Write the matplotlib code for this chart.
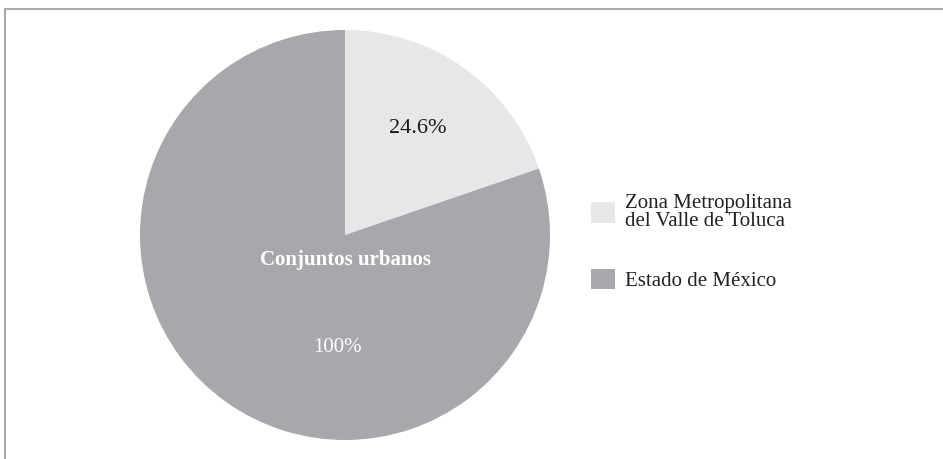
import matplotlib
matplotlib.use('Agg')
import matplotlib.pyplot as plt
from matplotlib.lines import Line2D

# values as drawn in the figure (each region given its own share)
labels = ["Zona Metropolitana\ndel Valle de Toluca", "Estado de México"]
values = [24.6, 100]
value_labels = ["24.6%", "100%"]
colors = ["#e6e7e8", "#a7a8ab"]
title = "Conjuntos urbanos"

W, H = 943, 459
fig = plt.figure(figsize=(W / 100, H / 100), dpi=100)

# frame lines (top and left)
fig.add_artist(Line2D([5 / W, 1], [1 - 9 / H, 1 - 9 / H], color="#a9a9a9", lw=1.5))
fig.add_artist(Line2D([5 / W, 5 / W], [0, 1 - 9 / H], color="#a9a9a9", lw=1.5))

ax = fig.add_axes([140 / W, 19 / H, 410 / W, 410 / H])
wedges, _ = ax.pie(values, colors=colors, startangle=90, counterclock=False,
                   radius=1, wedgeprops=dict(linewidth=0))
ax.set_xlim(-1, 1)
ax.set_ylim(-1, 1)
ax.axis("off")

ax.text(0.355, 0.52, value_labels[0], ha="center", va="center",
        fontsize=16, family="Liberation Serif", color="#1a1a1a")
ax.text(-0.035, -0.55, value_labels[1], ha="center", va="center",
        fontsize=15, family="Liberation Serif", color="white")
ax.text(0.0, -0.12, title, ha="center", va="center", fontsize=15,
        family="Liberation Serif", fontweight="bold", color="white")

leg = fig.legend(wedges, labels, loc="upper left",
                 bbox_to_anchor=(591 / W, 1 - 194 / H), frameon=False,
                 prop=dict(family="Liberation Serif", size=15),
                 handlelength=1.15, handleheight=1.15, handletextpad=0.5,
                 labelspacing=1.8, borderpad=0, borderaxespad=0)
for t in leg.get_texts():
    t.set_color("#222222")
    t.set_linespacing(0.95)

fig.savefig("out.png", dpi=100)
